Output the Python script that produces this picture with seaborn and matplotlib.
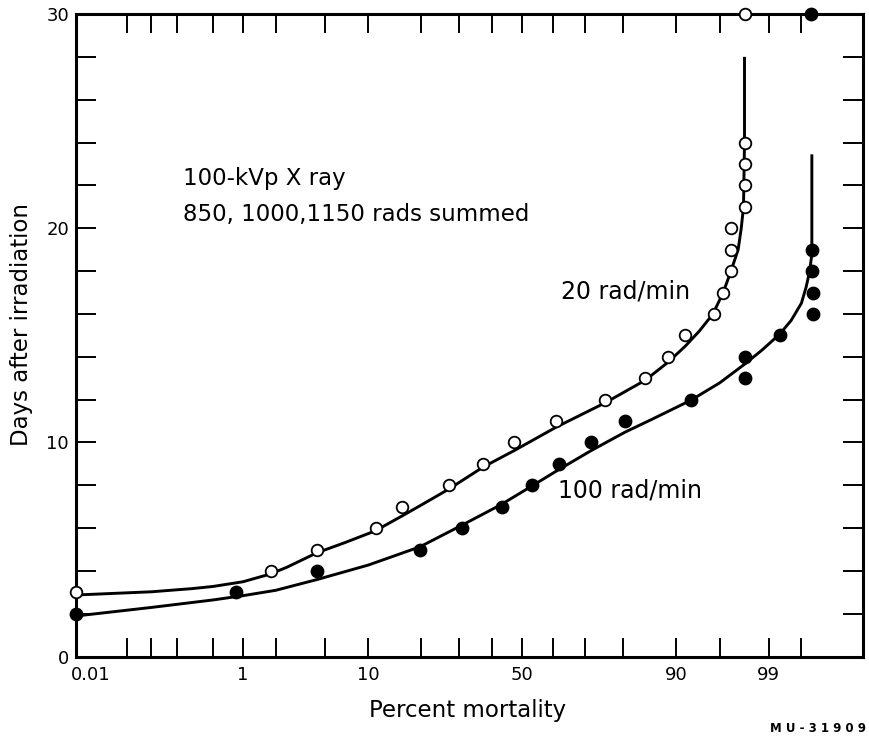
import math
import numpy as np
import pandas as pd
import matplotlib
matplotlib.use("Agg")
import matplotlib.pyplot as plt
import matplotlib.transforms as mtransforms
import seaborn as sns

# ---------------- data ----------------
# 20 rad/min (open circles)
open_pct = [0.01, 1.8, 4.35, 11.1, 15.9, 27.0, 37.2, 47.4, 61.2, 75.6, 84.7, 88.8,
            91.3, 94.5, 95.3, 95.9, 95.9, 95.9, 96.8, 96.8, 96.8, 96.8, 96.8]
open_days = [3, 4, 5, 6, 7, 8, 9, 10, 11, 12, 13, 14,
             15, 16, 17, 18, 19, 20, 21, 22, 23, 24, 30]

# 100 rad/min (filled circles)
filled_pct = [0.01, 0.85, 4.35, 19.6, 30.9, 43.2, 53.1, 61.9, 71.7, 80.4, 92.0,
              96.8, 96.8, 98.4, 99.23, 99.23, 99.21, 99.21, 99.2]
filled_days = [2, 3, 4, 5, 6, 7, 8, 9, 10, 11, 12,
               13, 14, 15, 16, 17, 18, 19, 30]

# fitted curves
open_curve_pct = [0.01, 0.1, 0.3, 0.5, 1.0, 1.79, 2.5, 4.35, 7.0, 11.0, 15.9, 20.0,
                  27.0, 37.2, 47.3, 61.2, 75.5, 84.7, 88.8, 91.3, 93.0, 94.4, 95.3,
                  95.9, 96.4, 96.6, 96.74, 96.8, 96.8]
open_curve_days = [2.88, 3.03, 3.18, 3.28, 3.5, 3.86, 4.18, 4.85, 5.33, 5.87, 6.58, 7.08,
                   7.82, 8.85, 9.62, 10.72, 11.85, 12.9, 13.75, 14.5, 15.2, 16.0, 17.0,
                   18.0, 19.0, 20.0, 21.0, 24.0, 28.0]

filled_curve_pct = [0.01, 0.1, 0.5, 1.0, 2.0, 4.35, 10.0, 19.7, 30.9, 43.0, 53.0, 61.8,
                    71.7, 80.4, 86.0, 92.0, 95.0, 96.8, 97.7, 98.4, 98.75, 99.0, 99.1,
                    99.17, 99.2, 99.21, 99.21]
filled_curve_days = [1.9, 2.3, 2.65, 2.85, 3.1, 3.6, 4.28, 5.13, 6.15, 7.1, 7.95, 8.72,
                     9.62, 10.48, 11.08, 11.97, 12.78, 13.65, 14.3, 15.05, 15.7, 16.5, 17.25,
                     18.0, 18.6, 19.2, 23.45]

xtick_major = [0.01, 1, 10, 50, 90, 98]
xtick_labels = ["0.01", "1", "10", "50", "90", "99"]
xtick_minor = [0.05, 0.1, 0.2, 0.5, 2, 5, 20, 30, 40, 60, 70, 80, 95, 99]
ytick_major = [0, 10, 20, 30]
ytick_minor = [2, 4, 6, 8, 12, 14, 16, 18, 22, 24, 26, 28]

# ---------------- probability (probit) scale ----------------
_a = [-3.969683028665376e+01, 2.209460984245205e+02, -2.759285104469687e+02,
      1.383577518672690e+02, -3.066479806614716e+01, 2.506628277459239e+00]
_b = [-5.447609879822406e+01, 1.615858368580409e+02, -1.556989798598866e+02,
      6.680131188771972e+01, -1.328068155288572e+01]
_c = [-7.784894002430293e-03, -3.223964580411365e-01, -2.400758277161838e+00,
      -2.549671348850363e+00, 4.374664141464968e+00, 2.938163982698783e+00]
_d = [7.784695709041462e-03, 3.224671290700398e-01, 2.445134137142996e+00,
      3.754408661907416e+00]


def _ppf(p):
    p = np.clip(np.asarray(p, dtype=float), 1e-9, 1 - 1e-9)
    out = np.empty_like(p)
    plow, phigh = 0.02425, 1 - 0.02425
    lo = p < plow
    hi = p > phigh
    mid = ~(lo | hi)
    if np.any(lo):
        q = np.sqrt(-2 * np.log(p[lo]))
        out[lo] = (((((_c[0]*q+_c[1])*q+_c[2])*q+_c[3])*q+_c[4])*q+_c[5]) / \
                  ((((_d[0]*q+_d[1])*q+_d[2])*q+_d[3])*q+1)
    if np.any(hi):
        q = np.sqrt(-2 * np.log(1 - p[hi]))
        out[hi] = -(((((_c[0]*q+_c[1])*q+_c[2])*q+_c[3])*q+_c[4])*q+_c[5]) / \
                   ((((_d[0]*q+_d[1])*q+_d[2])*q+_d[3])*q+1)
    if np.any(mid):
        q = p[mid] - 0.5
        r = q * q
        out[mid] = (((((_a[0]*r+_a[1])*r+_a[2])*r+_a[3])*r+_a[4])*r+_a[5])*q / \
                   (((((_b[0]*r+_b[1])*r+_b[2])*r+_b[3])*r+_b[4])*r+1)
    return out


_erf = np.vectorize(math.erf)


def fwd(x):
    return _ppf(np.asarray(x, dtype=float) / 100.0)


def inv(z):
    z = np.asarray(z, dtype=float)
    return 50.0 * (1.0 + _erf(z / math.sqrt(2.0)))


# ---------------- figure ----------------
sns.set_theme(style="white")
plt.rcParams["font.family"] = ["DejaVu Sans"]

fig = plt.figure(figsize=(8.69, 7.41), dpi=100)
ax = fig.add_axes([76/869, 1 - 656.7/741, (863.3-76)/869, (656.7-14)/741])

curves = pd.concat([
    pd.DataFrame({"pct": open_curve_pct, "days": open_curve_days, "rate": "20 rad/min"}),
    pd.DataFrame({"pct": filled_curve_pct, "days": filled_curve_days, "rate": "100 rad/min"}),
])

ax.set_xscale("function", functions=(fwd, inv))

sns.lineplot(data=curves, x="pct", y="days", units="rate", estimator=None, sort=False,
             color="black", lw=2.1, ax=ax, legend=False, zorder=2)
for ln in ax.lines:
    ln.set_solid_joinstyle("round")
    ln.set_solid_capstyle("butt")

pts_open = pd.DataFrame({"pct": open_pct, "days": open_days})
pts_filled = pd.DataFrame({"pct": filled_pct, "days": filled_days})
sns.scatterplot(data=pts_open, x="pct", y="days", ax=ax, s=70, marker="o",
                facecolor="white", edgecolor="black", linewidth=1.3,
                clip_on=False, zorder=5, legend=False)
sns.scatterplot(data=pts_filled, x="pct", y="days", ax=ax, s=80, marker="o",
                facecolor="black", edgecolor="black", linewidth=1.0,
                clip_on=False, zorder=5, legend=False)

ax.set_xlim(0.01, 99.776)
ax.set_ylim(0, 30)

ax.set_xticks(xtick_major)
ax.set_xticklabels(xtick_labels)
ax.set_xticks(xtick_minor, minor=True)
ax.set_yticks(ytick_major)
ax.set_yticklabels([str(v) for v in ytick_major])
ax.set_yticks(ytick_minor, minor=True)

ax.tick_params(axis="x", which="both", direction="in", length=14, width=1.4,
               top=True, bottom=True, color="black", labelsize=13, pad=7,
               labelcolor="black")
ax.tick_params(axis="y", which="both", direction="in", length=14.5, width=1.4,
               left=True, right=True, color="black", labelsize=13, pad=5,
               labelcolor="black")
ax.xaxis.set_minor_formatter(plt.NullFormatter())
ax.yaxis.set_minor_formatter(plt.NullFormatter())

# first x label sits just right of the spine in the reference
lbl0 = ax.get_xticklabels()[0]
lbl0.set_horizontalalignment("left")
lbl0.set_transform(lbl0.get_transform() + mtransforms.ScaledTranslation(-4/72, 0, fig.dpi_scale_trans))

for s in ax.spines.values():
    s.set_visible(True)
    s.set_color("black")
    s.set_linewidth(2.2)

ax.set_xlabel("")
ax.set_ylabel("")
fig.text(468/869, 1 - 711/741, "Percent mortality", ha="center", va="center",
         fontsize=16.5, color="black")
fig.text(22/869, 1 - 325/741, "Days after irradiation", ha="center", va="center",
         rotation=90, fontsize=16.5, color="black")

fig.text(183/869, 1 - 178/741, "100-kVp X ray", ha="left", va="center",
         fontsize=16.5, color="black")
fig.text(183/869, 1 - 215/741, "850, 1000,1150 rads summed", ha="left", va="center",
         fontsize=16.5, color="black")
fig.text(561/869, 1 - 291/741, "20 rad/min", ha="left", va="center",
         fontsize=17, color="black")
fig.text(558/869, 1 - 490/741, "100 rad/min", ha="left", va="center",
         fontsize=17, color="black")
fig.text(866/869, 1 - 728/741, "M U - 3 1 9 0 9", ha="right", va="center",
         fontsize=8.5, fontweight="bold", color="black")

fig.savefig("out.png", dpi=100, facecolor="white")
